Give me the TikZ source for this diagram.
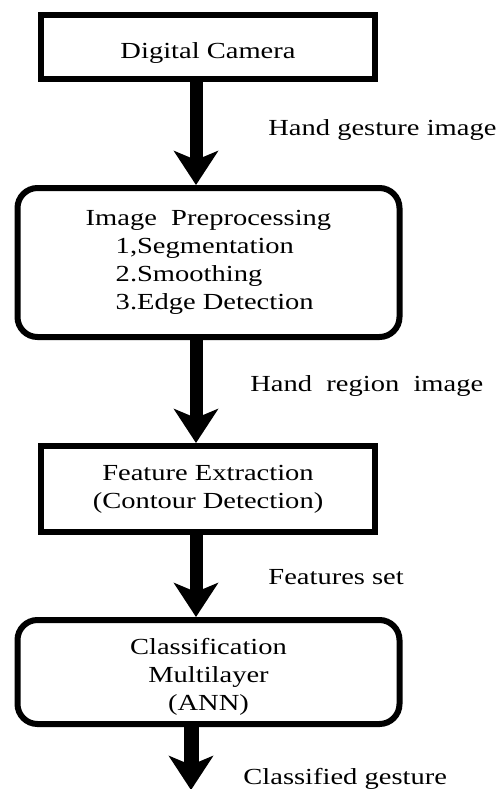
\documentclass[tikz,border=0pt]{standalone}
\usepackage{fontspec}
\setmainfont{Liberation Serif}[FakeStretch=1.24]
\usetikzlibrary{arrows.meta}

\begin{document}
\begin{tikzpicture}[x=0.5pt,y=-0.5pt,
  font=\fontsize{11.5}{14}\selectfont,
  stage/.style={draw,line width=3pt,inner sep=0pt,align=center},
  roundstage/.style={stage,rounded corners=10pt},
  flow/.style={-{Stealth[length=17pt,width=22pt,inset=4.5pt]},line width=6.5pt}]
  \useasboundingbox (0,0) rectangle (495,789);

  \node[stage,minimum width=167pt,minimum height=32pt,text height=11pt,text depth=0pt] (camera) at (208,47) {Digital Camera};
  \node[roundstage,align=left,minimum width=191pt,minimum height=74.5pt] (preproc) at (208.5,262.5)
    {Image\ \ Preprocessing\\ \hspace*{15pt}1,Segmentation\\ \hspace*{15pt}2.Smoothing\\ \hspace*{15pt}3.Edge Detection};
  \node[stage,minimum width=167pt,minimum height=43pt] (feature) at (208,489) {Feature Extraction\\(Contour Detection)};
  \node[roundstage,minimum width=191pt,minimum height=52pt] (classify) at (208.5,672) {\rule{0pt}{13pt}Classification\\Multilayer\\(ANN)};
  \coordinate (outlet) at (191,790);

  \node[anchor=base west,inner sep=0pt] (lblgesture) at (268,135) {Hand gesture image};
  \node[anchor=base west,inner sep=0pt] (lblregion) at (250,391) {Hand\ \ region\ \ image};
  \node[anchor=base west,inner sep=0pt] (lblfeatures) at (268,584) {Features set};
  \node[anchor=base west,inner sep=0pt] (lblclassified) at (243,784) {Classified gesture};

  \path [flow] ([xshift=-6pt]camera.south) edge ([xshift=-6.25pt]preproc.north);
  \path [flow] ([xshift=-6.25pt]preproc.south) edge ([xshift=-6pt]feature.north);
  \path [flow] ([xshift=-6pt]feature.south) edge ([xshift=-6.25pt]classify.north);
  \path [flow,line width=7.5pt] ([xshift=-8.75pt]classify.south) edge (outlet);
\end{tikzpicture}
\end{document}
